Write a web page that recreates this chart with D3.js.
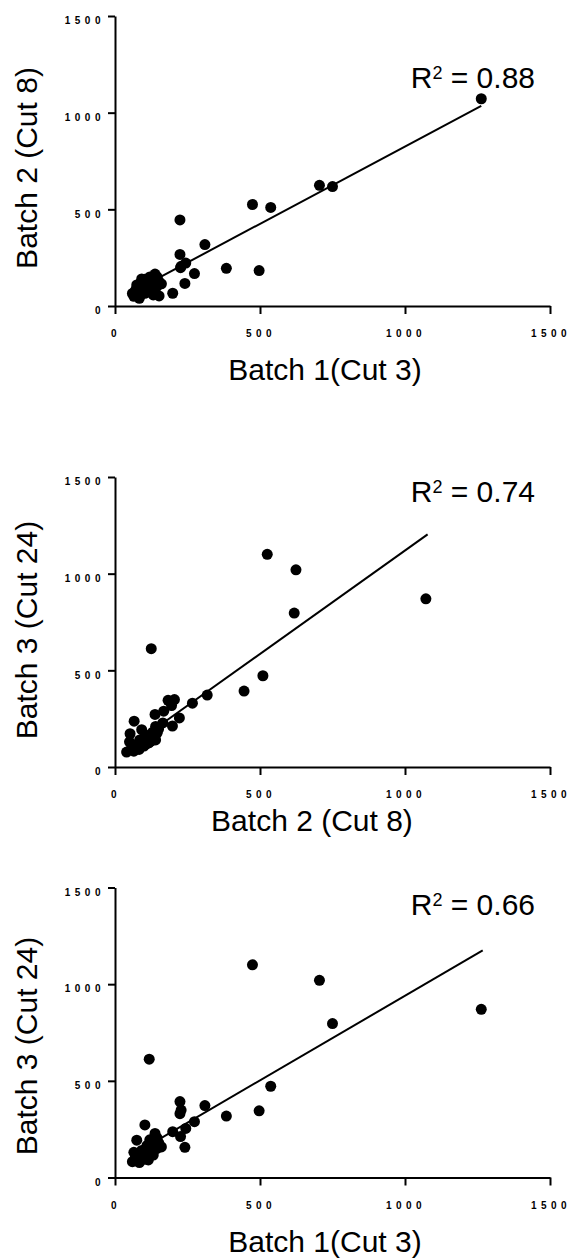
<!DOCTYPE html>
<html>
<head>
<meta charset="utf-8">
<script src="https://cdn.jsdelivr.net/npm/d3@7"></script>
<style>
    body { margin: 0; background: #fff; }
    svg text { font-family: "Liberation Sans", Arial, sans-serif; fill: #000; }
    .axis path, .axis line { stroke: #000; stroke-width: 2; }
    .axis text { font-size: 10px; font-weight: 700; letter-spacing: 4.5px; }
</style>
</head>
<body>
<div id="chart"></div>
<script>
const width = 572;
const height = 1260;

// Per-sample values (same samples in all three panels)
const batch1 = [1263, 705, 750, 474, 537, 224, 310, 224, 384, 497, 118, 244, 274, 241, 199, 152, 226, 103, 138, 75, 228,
    60, 84, 75, 103, 144, 98, 86, 115, 126, 103, 132, 92, 120, 70, 95, 110, 140, 145, 150, 130, 65, 80, 130, 160];
const batch2 = [1072, 624, 618, 525, 510, 445, 318, 267, 195, 183, 125, 222, 168, 117, 66, 52, 198, 138, 165, 92, 205,
    65, 40, 109, 126, 100, 100, 117, 83, 117, 66, 57, 140, 150, 80, 75, 105, 140, 150, 130, 145, 50, 60, 85, 115];
const batch3 = [870, 1020, 796, 1100, 472, 393, 372, 330, 318, 345, 612, 254, 289, 156, 237, 172, 212, 272, 228, 193, 349,
    82, 77, 120, 135, 150, 108, 125, 91, 160, 95, 116, 140, 195, 100, 110, 165, 210, 205, 180, 175, 130, 114, 140, 158];

const tickValues = [0, 500, 1000, 1500];
const xTitles = ["Batch 1(Cut 3)", "Batch 2 (Cut 8)", "Batch 1(Cut 3)"];
const yTitles = ["Batch 2 (Cut 8)", "Batch 3 (Cut 24)", "Batch 3 (Cut 24)"];
const r2Labels = ["0.88", "0.74", "0.66"];

// Fitted lines as drawn: slope, intercept, x range
const fitSlope = [0.80, 1.07, 0.875];
const fitIntercept = [25, 50, 65];
const fitFrom = [60, 40, 60];
const fitTo = [1263, 1078, 1268];

const panels = [
    { xs: batch1, ys: batch2 },
    { xs: batch2, ys: batch3 },
    { xs: batch1, ys: batch3 },
];

// Layout of the three stacked panels
const layout = [
    { bottom: 306, xTitleX: 325, xTitleY: 380, yTitleC: 168, r2Y: 88 },
    { bottom: 767, xTitleX: 312, xTitleY: 831, yTitleC: 630, r2Y: 502 },
    { bottom: 1177.5, xTitleX: 325, xTitleY: 1252, yTitleC: 1046, r2Y: 915 },
];
const plotLeft = 115;
const plotRight = 550;
const plotH = 290;

const svg = d3
    .select("#chart")
    .append("svg")
    .attr("width", width)
    .attr("height", height);

panels.forEach((p, i) => {
    const L = layout[i];
    const g = svg.append("g");

    const x = d3.scaleLinear().domain([0, 1500]).range([plotLeft, plotRight]);
    const y = d3.scaleLinear().domain([0, 1500]).range([L.bottom, L.bottom - plotH]);

    // Axes
    g.append("g")
        .attr("class", "axis")
        .attr("transform", `translate(0,${L.bottom})`)
        .call(d3.axisBottom(x).tickValues(tickValues).tickSize(8).tickSizeOuter(0).tickPadding(16).tickFormat(d3.format("d")))
        .call((a) => a.selectAll("text").attr("dx", "0.5px"));

    g.append("g")
        .attr("class", "axis")
        .attr("transform", `translate(${plotLeft},0)`)
        .call(d3.axisLeft(y).tickValues(tickValues).tickSize(7).tickSizeOuter(0).tickPadding(3).tickFormat(d3.format("d")))
        .call((a) => a.selectAll("text").attr("dy", "0.77em"));

    // Fit line
    const fitPts = [fitFrom[i], fitTo[i]].map((v) => [v, fitIntercept[i] + fitSlope[i] * v]);
    g.append("path")
        .datum(fitPts)
        .attr("fill", "none")
        .attr("stroke", "#000")
        .attr("stroke-width", 2)
        .attr("d", d3.line().x((d) => x(d[0])).y((d) => y(d[1])));

    // Points
    g.append("g")
        .selectAll("circle")
        .data(p.xs.map((v, k) => [v, p.ys[k]]))
        .join("circle")
        .attr("cx", (d) => x(d[0]))
        .attr("cy", (d) => y(d[1]))
        .attr("r", 5.5)
        .attr("fill", "#000");

    // Axis titles
    g.append("text")
        .attr("x", L.xTitleX)
        .attr("y", L.xTitleY)
        .attr("text-anchor", "middle")
        .attr("font-size", 30)
        .text(xTitles[i]);

    g.append("text")
        .attr("transform", `translate(37,${L.yTitleC}) rotate(-90)`)
        .attr("text-anchor", "middle")
        .attr("font-size", 30)
        .text(yTitles[i]);

    // R squared label
    const r2 = g.append("text")
        .attr("x", 535)
        .attr("y", L.r2Y)
        .attr("text-anchor", "end")
        .attr("font-size", 30);
    r2.append("tspan").text("R");
    r2.append("tspan").attr("font-size", 18).attr("dy", -9).text("2");
    r2.append("tspan").attr("dy", 9).text(` = ${r2Labels[i]}`);
});
</script>
</body>
</html>
